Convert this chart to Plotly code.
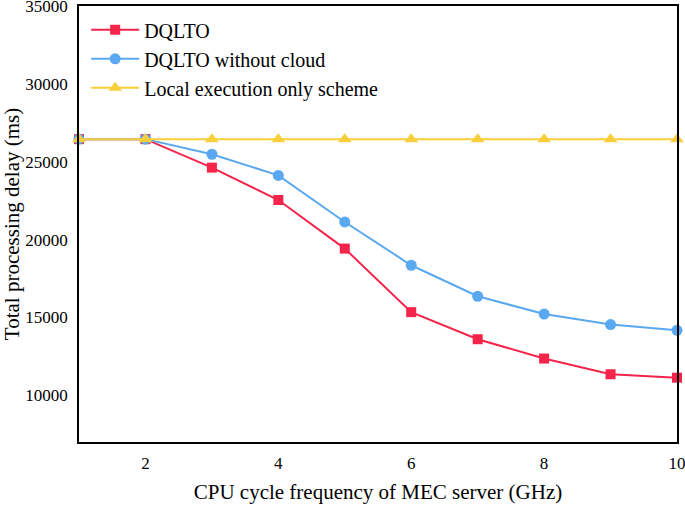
import plotly.graph_objects as go

freq = [1, 2, 3, 4, 5, 6, 7, 8, 9, 10]
dqlto = [26450, 26450, 24620, 22540, 19420, 15340, 13600, 12360, 11350, 11130]
dqlto_no_cloud = [26450, 26450, 25480, 24120, 21130, 18350, 16360, 15220, 14540, 14170]
local_only = [26450, 26450, 26450, 26450, 26450, 26450, 26450, 26450, 26450, 26450]

names = ["DQLTO", "DQLTO without cloud", "Local execution only scheme"]
colors = ["#F5244B", "#5AA8F0", "#F8CF3A"]
symbols = ["square", "circle", "triangle-up"]
sizes = [10, 11, 12]
series = [dqlto, dqlto_no_cloud, local_only]

fig = go.Figure()
for name, ys, c, s, sz in zip(names, series, colors, symbols, sizes):
    fig.add_trace(go.Scatter(
        x=freq, y=ys, name=name, mode="lines+markers",
        line=dict(color=c, width=2),
        marker=dict(symbol=s, size=sz, color=c),
        cliponaxis=False,
    ))

ff = "Liberation Serif"
fig.update_layout(
    width=685, height=505,
    margin=dict(l=79, r=8, t=6, b=63, autoexpand=False),
    paper_bgcolor="white", plot_bgcolor="white",
    font=dict(family=ff, color="black", size=17),
    showlegend=True,
    legend=dict(x=0.012, y=0.99, xanchor="left", yanchor="top",
                bgcolor="rgba(0,0,0,0)", font=dict(size=20, family=ff, color="black"),
                tracegroupgap=0, itemwidth=48),
    xaxis=dict(range=[1, 10], tick0=0, dtick=2, showgrid=False, zeroline=False,
               showline=True, linecolor="black", linewidth=1.5, mirror=True,
               ticks="", tickfont=dict(size=17, family=ff, color="black"), automargin=False,
               ticklabeloverflow="allow", ticklabelstandoff=5,
               title=dict(text="CPU cycle frequency of MEC server (GHz)",
                          font=dict(size=21, family=ff, color="black"), standoff=12)),
    yaxis=dict(range=[7000, 35000], tick0=10000, dtick=5000, showgrid=False, zeroline=False,
               showline=True, linecolor="black", linewidth=1.5, mirror=True,
               ticks="", tickformat="d", tickfont=dict(size=17, family=ff, color="black"),
               automargin=False, ticklabeloverflow="allow", ticklabelstandoff=6,
               title=dict(text="Total processing delay (ms)",
                          font=dict(size=21, family=ff, color="black"), standoff=1)),
)

fig.write_html("out.html", config={"displayModeBar": False},
               post_script="document.body.style.margin='0';document.body.style.padding='0';")
